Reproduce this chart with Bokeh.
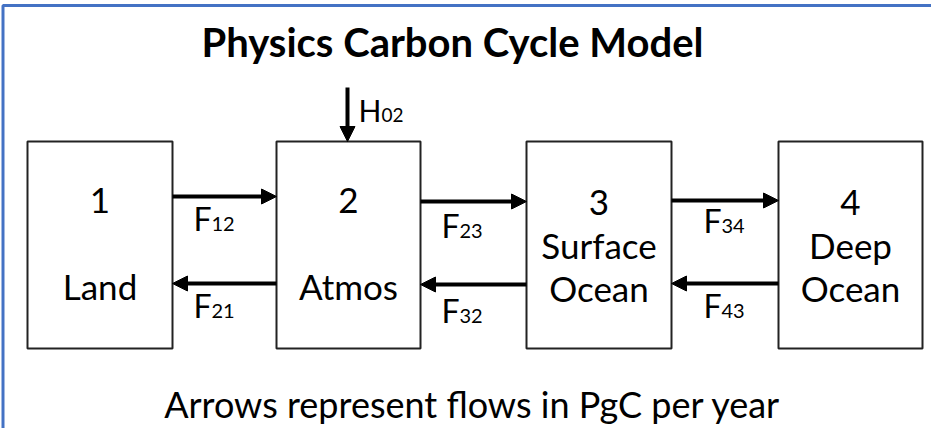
from bokeh.plotting import figure
from bokeh.models import Range1d, Arrow, NormalHead
from bokeh.core.properties import value
from bokeh.embed import file_html
from bokeh.resources import INLINE

# ---- diagram content ----
title_text = "Physics Carbon Cycle Model"
footer_text = "Arrows represent flows in PgC per year"
box_numbers = ["1", "2", "3", "4"]
box_names = [["Land"], ["Atmos"], ["Surface", "Ocean"], ["Deep", "Ocean"]]
flux_forward = ["12", "23", "34"]
flux_backward = ["21", "32", "43"]
input_symbol = "H"
input_label = "02"

# ---- layout (pixel coordinates of the picture) ----
box_left = [35, 284, 534, 786]
box_right = [180, 428, 679, 930]
box_top, box_bottom = 149, 356
top_arrow_y = [204, 209, 208]
bot_arrow_y = [291, 292, 291]
fwd_base_y = [240, 247, 242]
bwd_base_y = [327, 332, 327]
label_x = [201, 449, 711]

W, H = 931, 428
p = figure(width=W, height=H, output_backend="svg", toolbar_location=None,
           x_range=Range1d(8, 8 + W), y_range=Range1d(8 + H, 8),
           min_border=0, outline_line_color=None)
p.axis.visible = False
p.grid.visible = False
p.background_fill_color = "white"
p.border_fill_color = "white"

FONT = value("Lato")

# blue frame
p.line(x=[10.5, 10.5, 960], y=[460, 13, 13], line_color="#4472C4", line_width=3)

# title
p.text(x=[460], y=[49], text=[title_text], text_align="center", text_baseline="middle",
       text_font=FONT, text_font_style="bold", text_font_size="40px", text_color="black")

# boxes
bx = [(l + r) / 2 for l, r in zip(box_left, box_right)]
bw = [r - l for l, r in zip(box_left, box_right)]
p.rect(x=bx, y=[(box_top + box_bottom) / 2] * 4, width=bw, height=[box_bottom - box_top] * 4,
       fill_color="white", line_color="#222222", line_width=2)

# box labels
for i, (num, names) in enumerate(zip(box_numbers, box_names)):
    ys = [208, 293] if len(names) == 1 else [210, 252, 295]
    texts = [num] + names
    p.text(x=[bx[i]] * len(texts), y=ys, text=texts, text_align="center",
           text_baseline="middle", text_font=FONT, text_font_size="35px",
           text_color="black")

# arrows between boxes
def arrow(x0, y0, x1, y1):
    p.add_layout(Arrow(end=NormalHead(size=15, fill_color="black", line_color="black"),
                       x_start=x0, y_start=y0, x_end=x1, y_end=y1,
                       line_width=4, line_color="black"))

for i in range(3):
    arrow(box_right[i], top_arrow_y[i], box_left[i + 1], top_arrow_y[i])
    arrow(box_left[i + 1], bot_arrow_y[i], box_right[i], bot_arrow_y[i])

# flux labels (symbol with subscript), positioned by their common baseline
def flux(x, base, sym, sub, big=32, small=20, dx=18):
    p.text(x=[x], y=[base - 0.36 * big - 2], text=[sym], text_align="left",
           text_baseline="middle", text_font=FONT, text_font_size=f"{big}px",
           text_color="black")
    p.text(x=[x + dx], y=[base - 0.36 * small - 1], text=[sub], text_align="left",
           text_baseline="middle", text_font=FONT, text_font_size=f"{small}px",
           text_color="black")

for i in range(3):
    flux(label_x[i], fwd_base_y[i], "F", flux_forward[i])
    flux(label_x[i], bwd_base_y[i], "F", flux_backward[i])

# external input H02
arrow(355, 95, 355, 149)
flux(366, 130, input_symbol, input_label, big=30, small=19, dx=23)

# footer
p.text(x=[480], y=[411], text=[footer_text], text_align="center", text_baseline="middle",
       text_font=FONT, text_font_size="36px", text_color="black")

open("out.html", "w").write(file_html(p, INLINE))
